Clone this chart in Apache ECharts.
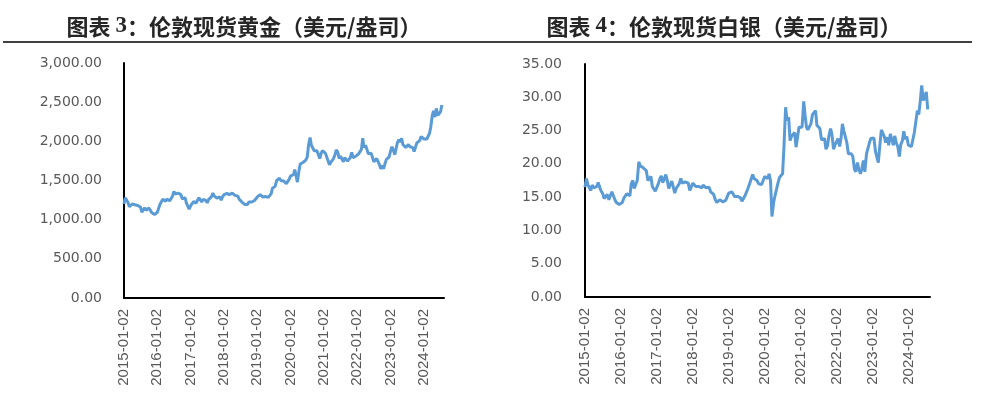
<!DOCTYPE html>
<html>
<head>
<meta charset="utf-8">
<style>
  html, body { margin: 0; padding: 0; background: #fff; }
  #echart { width: 981px; height: 397px; }
</style>
<script src="https://cdn.jsdelivr.net/npm/echarts/dist/echarts.min.js"></script>
</head>
<body>
<div id="echart"></div>
<script>
var dom = document.getElementById("echart")
var myChart = echarts.init(dom);

var option;

// two readings a month (2nd and 16th), Jan 2015 - Jul 2024
let startYear = 2015;
let pointDays = [2, 16];
let yearLabels = ['2015-01-02', '2016-01-02', '2017-01-02', '2018-01-02', '2019-01-02',
    '2020-01-02', '2021-01-02', '2022-01-02', '2023-01-02', '2024-01-02'];

// prettier-ignore
let goldValues = [
    1200,1280, 1260,1215, 1165,1185, 1200,1205, 1190,1205, 1180,1175, 1160,1095, 1090,1150, 1120,1135, 1150,1170, 1090,1075, 1065,1070,
    1095,1110, 1200,1230, 1260,1235, 1235,1265, 1275,1240, 1220,1300, 1360,1325, 1350,1340, 1330,1320, 1265,1265, 1280,1210, 1170,1135,
    1180,1205, 1230,1250, 1210,1245, 1280,1270, 1225,1260, 1270,1245, 1215,1255, 1270,1290, 1340,1305, 1285,1275, 1280,1290, 1250,1290,
    1320,1345, 1335,1330, 1320,1340, 1340,1325, 1310,1290, 1300,1265, 1250,1225, 1210,1195, 1200,1195, 1225,1230, 1225,1220, 1245,1270,
    1290,1300, 1320,1325, 1290,1310, 1295,1275, 1285,1280, 1330,1400, 1410,1425, 1500,1520, 1530,1500, 1490,1495, 1470,1460, 1475,1515,
    1560,1570, 1575,1640, 1640,1480, 1620,1710, 1710,1730, 1720,1760, 1800,1950, 2050,1950, 1940,1880, 1900,1880, 1880,1780, 1850,1880,
    1860,1850, 1830,1750, 1700,1730, 1750,1780, 1830,1890, 1860,1780, 1810,1810, 1740,1790, 1790,1750, 1760,1790, 1860,1790, 1780,1810,
    1800,1840, 1820,1900, 2040,1920, 1950,1900, 1840,1850, 1850,1830, 1740,1720, 1780,1760, 1700,1650, 1690,1650, 1720,1770, 1780,1800,
    1880,1930, 1880,1830, 1850,1980, 2020,1990, 2040,1960, 1960,1920, 1930,1960, 1930,1910, 1920,1870, 1870,1980, 1980,2010, 2060,2040,
    2030,2020, 2030,2020, 2100,2180, 2330,2390, 2310,2420, 2330,2320, 2380,2465
];
// prettier-ignore
let silverValues = [
    16.5,17.8, 16.8,16.5, 16.0,16.8, 16.4,16.3, 16.6,17.2, 16.4,15.9, 15.5,14.8, 14.6,15.4, 14.6,15.2, 15.8,15.9, 14.6,14.2, 14.1,13.9,
    14.1,14.2, 14.9,15.2, 15.5,15.3, 15.2,17.0, 17.5,16.3, 16.2,17.5, 20.3,19.7, 19.9,19.4, 19.2,19.0, 17.5,17.6, 18.1,16.6, 16.5,15.9,
    16.5,17.0, 17.8,18.2, 17.2,17.6, 18.4,17.6, 16.3,16.8, 17.4,16.6, 15.6,16.3, 16.6,17.0, 17.8,17.1, 17.0,17.3, 17.1,17.1, 16.0,16.5,
    17.1,17.2, 16.6,16.6, 16.6,16.5, 16.4,16.8, 16.5,16.4, 16.6,16.5, 15.8,15.5, 15.4,14.7, 14.2,14.3, 14.6,14.7, 14.3,14.3, 14.5,14.8,
    15.6,15.6, 15.8,15.9, 15.1,15.3, 15.1,15.0, 14.9,14.4, 14.6,15.2, 15.1,16.3, 17.0,17.1, 18.4,17.8, 17.6,17.5, 17.0,17.0, 16.9,17.2,
    18.1,17.9, 17.8,18.5, 17.4,12.1, 14.2,15.2, 15.0,17.1, 18.0,17.8, 18.5,22.5, 28.5,26.5, 27.0,23.5, 24.2,24.3, 24.7,22.5, 24.1,25.5,
    25.3,25.5, 29.4,27.3, 25.5,25.1, 25.2,26.0, 27.4,27.7, 28.0,25.8, 26.1,25.3, 23.6,23.5, 23.8,22.2, 22.7,24.2, 25.3,24.4, 22.2,22.8,
    22.6,23.8, 22.6,23.8, 26.0,25.0, 25.0,23.2, 21.5,21.8, 21.5,21.1, 19.2,18.8, 20.2,19.2, 18.5,19.3, 20.5,18.8, 21.5,21.5, 23.2,23.8,
    23.8,23.9, 21.8,21.7, 20.2,22.5, 25.1,25.2, 24.1,23.2, 24.0,22.8, 24.5,24.8, 22.8,24.2, 23.1,22.6, 21.1,22.9, 23.5,24.9, 23.7,24.1,
    22.8,22.8, 22.6,22.8, 24.7,25.0, 28.0,27.4, 29.5,31.8, 29.5,29.8, 30.8,28.2
];

// x position = years elapsed since 2015-01-02
let t0 = Date.UTC(2015, 0, 2);
function toPoints(values) {
    let pts = [];
    for (let i = 0; i < values.length; i++) {
        let m = Math.floor(i / 2);
        let t = Date.UTC(startYear + Math.floor(m / 12), m % 12, pointDays[i % 2]);
        pts.push([(t - t0) / (365.25 * 86400000), values[i]]);
    }
    return pts;
}

function fmtNum(v) {
    return v.toLocaleString('en-US', { minimumFractionDigits: 2, maximumFractionDigits: 2 });
}

function xAxisCfg(idx) {
    return {
        type: 'value',
        gridIndex: idx,
        min: 0,
        max: 9.6,
        interval: 1,
        axisLine: { show: true, lineStyle: { color: '#000', width: 2 } },
        axisTick: { show: false },
        splitLine: { show: false },
        axisLabel: {
            rotate: 90,
            margin: 11,
            showMaxLabel: false,
            color: '#595959',
            fontFamily: 'Liberation Sans',
            fontSize: 15,
            formatter: function (v) { return yearLabels[Math.round(v)] || ''; }
        }
    };
}

function yAxisCfg(idx, max, step, margin) {
    return {
        type: 'value',
        gridIndex: idx,
        min: 0,
        max: max,
        interval: step,
        axisLine: { show: true, lineStyle: { color: '#000', width: 2 } },
        axisTick: { show: false },
        splitLine: { show: false },
        axisLabel: {
            margin: margin,
            color: '#595959',
            fontFamily: 'DejaVu Sans',
            fontSize: 14,
            formatter: fmtNum
        }
    };
}

let titleRich = {
    a: { fontFamily: 'Noto Sans CJK SC', fontWeight: 'bold', fontSize: 22, color: '#262626' },
    n: { fontFamily: 'Liberation Serif', fontWeight: 'bold', fontSize: 23, color: '#262626' }
};

option = {
    animation: false,
    title: [
        { text: '{a|图表 }{n|3}{a|：伦敦现货黄金（美元/盎司）}', left: 239, top: 10, textAlign: 'center', textStyle: { rich: titleRich } },
        { text: '{a|图表 }{n|4}{a|：伦敦现货白银（美元/盎司）}', left: 719, top: 10, textAlign: 'center', textStyle: { rich: titleRich } }
    ],
    graphic: [
        { type: 'line', shape: { x1: 3, y1: 42, x2: 972, y2: 42 }, style: { stroke: '#000', lineWidth: 1.5 } }
    ],
    grid: [
        { left: 124, right: 537, top: 63, bottom: 99 },
        { left: 585, right: 51, top: 64, bottom: 100 }
    ],
    xAxis: [xAxisCfg(0), xAxisCfg(1)],
    yAxis: [yAxisCfg(0, 3000, 500, 22), yAxisCfg(1, 35, 5, 23)],
    series: [
        {
            type: 'line',
            xAxisIndex: 0,
            yAxisIndex: 0,
            showSymbol: false,
            lineStyle: { color: '#5B9BD5', width: 3 },
            data: toPoints(goldValues)
        },
        {
            type: 'line',
            xAxisIndex: 1,
            yAxisIndex: 1,
            showSymbol: false,
            lineStyle: { color: '#5B9BD5', width: 3 },
            data: toPoints(silverValues)
        }
    ]
};

if (option && typeof option === 'object') {
    myChart.setOption(option);
}
</script>
</body>
</html>
